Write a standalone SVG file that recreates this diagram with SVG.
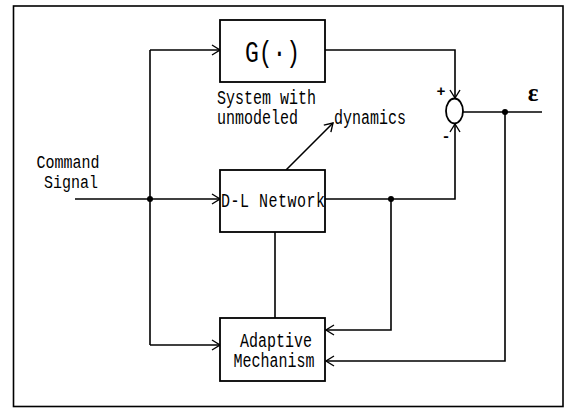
<svg xmlns="http://www.w3.org/2000/svg" width="565" height="408" viewBox="0 0 565 408">
<style>
.ln{fill:none;stroke:#000;stroke-width:1.6}
.bx{fill:#fff;stroke:#000;stroke-width:1.8}
.t{font-family:"Liberation Mono","DejaVu Sans Mono",monospace;font-size:15px;fill:#000}
.big{font-size:23px}
</style>
<defs>
<marker id="ah" markerUnits="userSpaceOnUse" markerWidth="12" markerHeight="12" viewBox="-10 -6 12 12" refX="0" refY="0" orient="auto">
<path d="M-8,-5 L0,0 L-8,5" fill="none" stroke="#000" stroke-width="1.4"/>
</marker>
</defs>
<rect x="13.5" y="6" width="549.5" height="400.5" fill="#fff" stroke="#000" stroke-width="1.6"/>
<g id="connectors">
<path class="ln" d="M75,199 H220" marker-end="url(#ah)"/>
<path class="ln" d="M150,50 V345"/>
<path class="ln" d="M150,50 H220" marker-end="url(#ah)"/>
<path class="ln" d="M150,345 H220" marker-end="url(#ah)"/>
<path class="ln" d="M325,50 H455 V98" marker-end="url(#ah)"/>
<path class="ln" d="M325,199 H455 V124" marker-end="url(#ah)"/>
<path class="ln" d="M463,112 H542"/>
<path class="ln" d="M391,199 V330 H326" marker-end="url(#ah)"/>
<path class="ln" d="M505,112 V361 H326" marker-end="url(#ah)"/>
<path class="ln" d="M275,232 V318"/>
<path class="ln" d="M286,170 L333,123" stroke-width="1.2" marker-end="url(#ah)"/>
<circle cx="150" cy="199" r="3"/>
<circle cx="391" cy="199" r="3"/>
<circle cx="505" cy="112" r="3"/>
</g>
<g id="sum">
<ellipse cx="454.5" cy="111" rx="8.5" ry="12.5" fill="none" stroke="#000" stroke-width="1.8"/>
<text class="t" x="441" y="96" text-anchor="middle" font-weight="bold" font-size="13">+</text>
<text class="t" x="446" y="141" text-anchor="middle" font-weight="bold" font-size="13">-</text>
</g>
<g id="G">
<rect class="bx" x="220" y="20" width="105" height="62"/>
<text class="t big" text-anchor="middle" transform="translate(272.5,62) scale(1,1.25)">G(·)</text>
</g>
<g id="DL">
<rect class="bx" x="220" y="170" width="105" height="62"/>
<text class="t" x="221" y="0" transform="translate(0,207) scale(1,1.3)" font-size="16" textLength="104">D-L Network</text>
</g>
<g id="AM">
<rect class="bx" x="220" y="318" width="105" height="63"/>
<text class="t" text-anchor="middle" transform="translate(276,347) scale(1,1.3)">Adaptive</text>
<text class="t" text-anchor="middle" transform="translate(274,367) scale(1,1.3)">Mechanism</text>
</g>
<g id="labels">
<text class="t" text-anchor="middle" transform="translate(68,168) scale(1,1.25)">Command</text>
<text class="t" text-anchor="middle" transform="translate(71,188) scale(1,1.25)">Signal</text>
<text class="t" transform="translate(217,104) scale(1,1.3)">System with</text>
<text class="t" transform="translate(217,124) scale(1,1.3)">unmodeled</text>
<text class="t" transform="translate(334,124) scale(1,1.3)">dynamics</text>
<text x="533" y="101" text-anchor="middle" font-family="Liberation Serif,serif" font-weight="bold" font-size="25">ε</text>
</g>
</svg>
